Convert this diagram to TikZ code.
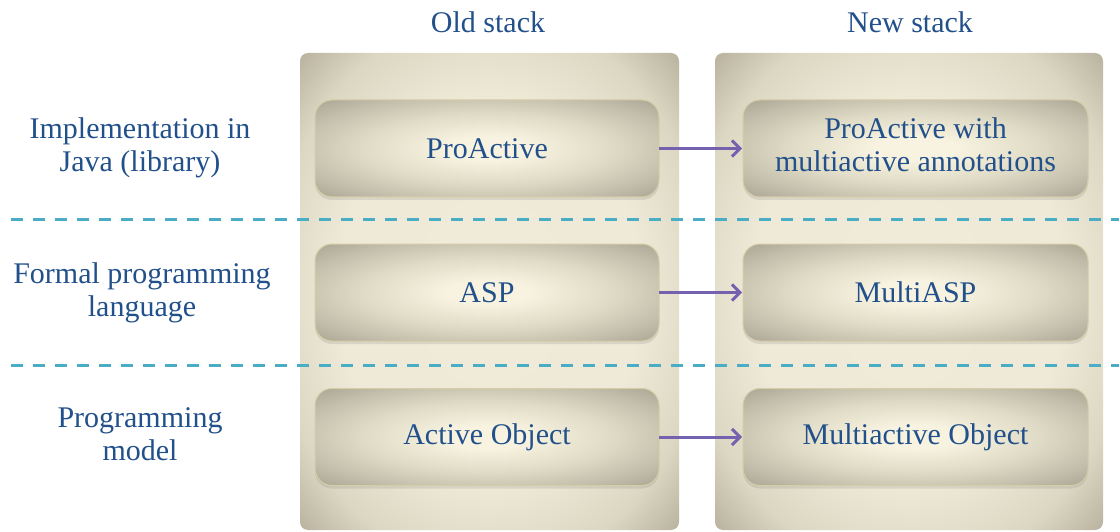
\documentclass[tikz,border=0pt]{standalone}
\usepackage{fontspec}
\setmainfont{Liberation Serif}
\usetikzlibrary{arrows.meta,positioning,shadows}
\definecolor{labColor}{HTML}{22508A}
\definecolor{arColor}{HTML}{7462AE}
\definecolor{sepColor}{HTML}{4BACC6}
\definecolor{edgeColor}{HTML}{D6CCA6}
\definecolor{stackIn}{HTML}{F0EBD9}
\definecolor{stackMid}{HTML}{DCD7C2}
\definecolor{stackOut}{HTML}{BAB4A0}
\definecolor{layerIn}{HTML}{F8F3E0}
\definecolor{layerMid}{HTML}{E0DBC6}
\definecolor{layerOut}{HTML}{ACA795}
\pgfdeclareradialshading{stackshade}{\pgfpointorigin}{color(0bp)=(stackIn); color(20bp)=(stackIn!95!stackMid);
	color(29bp)=(stackMid); color(35bp)=(stackOut); color(50bp)=(stackOut!92!black)}
\pgfdeclareradialshading{layershade}{\pgfpointorigin}{color(0bp)=(layerIn); color(6bp)=(layerIn);
	color(18bp)=(layerMid); color(28bp)=(layerMid!45!layerOut); color(35bp)=(layerOut); color(50bp)=(layerOut!92!black)}
\tikzset{
	stackbox/.style={rounded corners=8pt, inner sep=0, outer sep=0, shading=stackshade},
	layerbox/.style={draw=edgeColor, line width=1pt, rounded corners=17pt, inner sep=0, outer sep=0,
		minimum height=97pt, shading=layershade,
		drop shadow={opacity=0.2, shadow xshift=0pt, shadow yshift=-3pt},
		text=labColor, font=\fontsize{30}{33}\selectfont},
	lab/.style={text=labColor, font=\fontsize{30}{33}\selectfont, inner sep=0},
	sep/.style={draw=sepColor, line width=3pt, dash pattern=on 12pt off 10pt},
	upgrade/.style={draw=arColor, line width=3pt}
}
\newcommand{\twol}[2]{\begin{tabular}{c} #1 \\ #2 \end{tabular}}
\begin{document}
\begin{tikzpicture}[x=1pt, y=-1pt, ->, >={Straight Barb[length=8pt,width=16pt]}, shorten >=1pt]
	\useasboundingbox (0,0) rectangle (1120,532);
	% the two stacks
	\node[stackbox, minimum width=379pt, minimum height=477pt] (old) at (489.5, 291.5) {};
	\node[stackbox, minimum width=388pt, minimum height=477pt] (new) at (909, 291.5) {};
	\node[lab] (oldt) at (488, 22) {Old stack};
	\node[lab] (newt) at (910, 22) {New stack};
	
	% layer separators
	\coordinate (s1a) at (11, 220);
	\coordinate (s1b) at (1120, 220);
	\coordinate (s2a) at (11, 365);
	\coordinate (s2b) at (1120, 365);
	\draw[sep, -] (s1a) -- (s1b);
	\draw[sep, -] (s2a) -- (s2b);
	
	% layers
	\node[lab] (l1) at (140, 148) {\twol{Implementation in}{Java (library)}};
	\node[lab] (l2) at (142, 293) {\twol{Formal programming}{language}};
	\node[lab] (l3) at (140, 437) {\twol{Programming}{model}};
	
	\node[layerbox, minimum width=344pt] (pa) at (487, 148.5) {ProActive};
	\node[layerbox, minimum width=344pt] (asp) at (487, 292.5) {ASP};
	\node[layerbox, minimum width=344pt] (ao) at (487, 437) {Active Object};
	\node[layerbox, minimum width=345pt] (pam) at (915.5, 148.5) {\twol{ProActive with}{multiactive annotations}};
	\node[layerbox, minimum width=345pt] (masp) at (915.5, 292.5) {MultiASP};
	\node[layerbox, minimum width=345pt] (mao) at (915.5, 437) {Multiactive Object};
	
	\path (pa.east) edge[upgrade] (pam.west);
	\path (asp.east) edge[upgrade] (masp.west);
	\path (ao.east) edge[upgrade] (mao.west);
\end{tikzpicture}
\end{document}
